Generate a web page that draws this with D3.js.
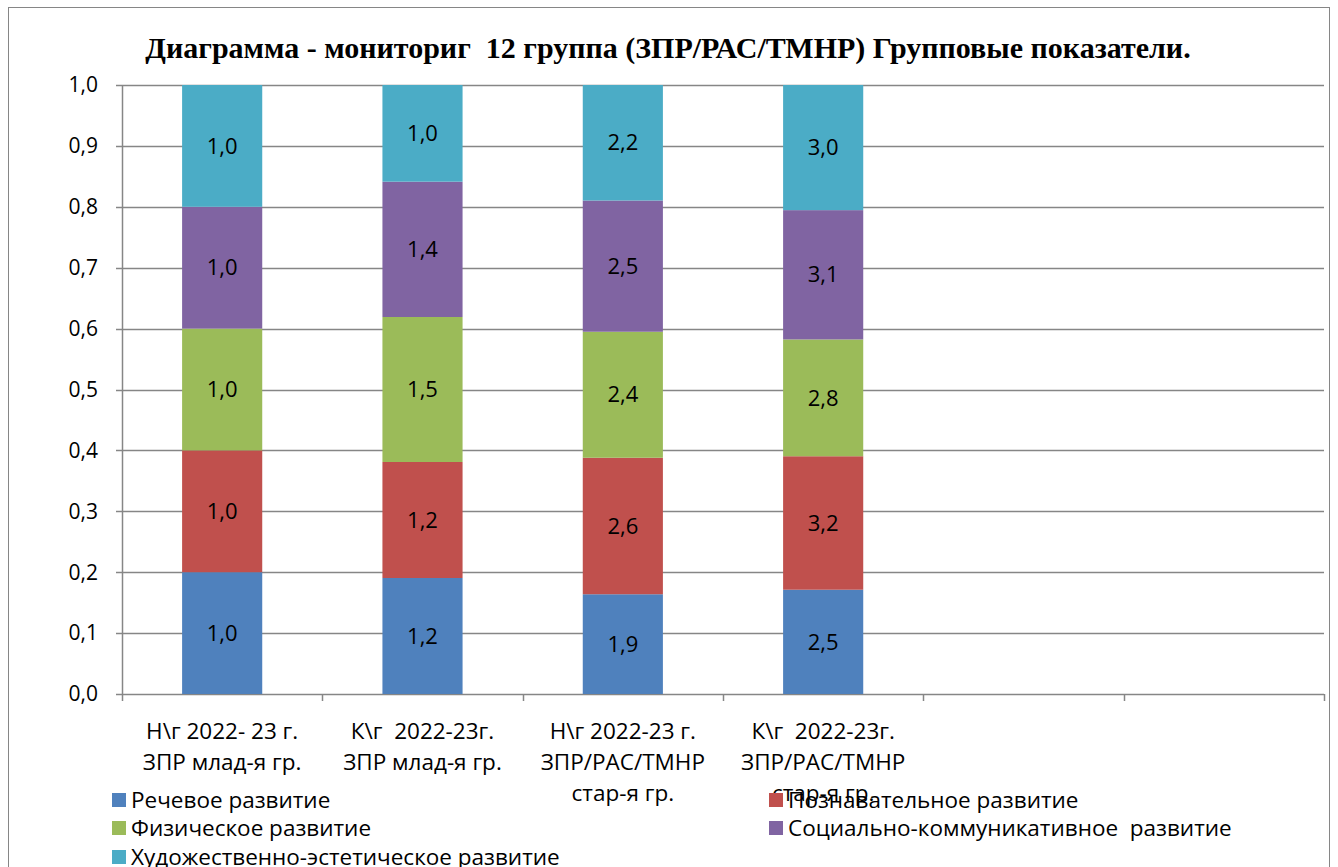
<!DOCTYPE html>
<html>
<head>
<meta charset="utf-8">
<script src="https://cdn.jsdelivr.net/npm/d3@7"></script>
<style>
  body { margin: 0; background: #fff; }
  text { font-family: "Open Sans", "Noto Sans", sans-serif; white-space: pre; }
</style>
</head>
<body>
<div id="chart"></div>
<script>
var categories = [
  ["Н\\г 2022- 23 г.", "ЗПР млад-я гр."],
  ["К\\г  2022-23г.", "ЗПР млад-я гр."],
  ["Н\\г 2022-23 г.", "ЗПР/РАС/ТМНР", "стар-я гр."],
  ["К\\г  2022-23г.", "ЗПР/РАС/ТМНР", "стар-я гр."],
  [""],
  [""]
];
var seriesNames = ["Речевое развитие", "Познавательное развитие", "Физическое развитие",
  "Социально-коммуникативное  развитие", "Художественно-эстетическое развитие"];
var speech   = [1.0, 1.2, 1.9, 2.5, null, null];
var cognit   = [1.0, 1.2, 2.6, 3.2, null, null];
var physical = [1.0, 1.5, 2.4, 2.8, null, null];
var social   = [1.0, 1.4, 2.5, 3.1, null, null];
var artistic = [1.0, 1.0, 2.2, 3.0, null, null];
var yTicks = [0, 0.1, 0.2, 0.3, 0.4, 0.5, 0.6, 0.7, 0.8, 0.9, 1.0];
var colors = ["#4F81BD", "#C0504D", "#9BBB59", "#8064A2", "#4BACC6"];
var titleText = "Диаграмма - мониториг  12 группа (ЗПР/РАС/ТМНР) Групповые показатели.";

var width = 1338, height = 867;
var margin = {top: 85, right: 14, bottom: 173, left: 122};
var plotW = width - margin.left - margin.right,
    plotH = height - margin.top - margin.bottom;

var svg = d3.select("#chart").append("svg")
  .attr("width", width)
  .attr("height", height);

// outer frame
svg.append("rect")
  .attr("x", 8.5).attr("y", 7.5)
  .attr("width", 1321).attr("height", 880)
  .attr("fill", "none")
  .attr("stroke", "#868686")
  .attr("stroke-width", 1);

svg.append("text")
  .attr("x", 668).attr("y", 58)
  .attr("text-anchor", "middle")
  .style("font-family", "'Liberation Serif', serif")
  .style("font-weight", "bold")
  .style("font-size", "30px")
  .text(titleText);

var g = svg.append("g")
  .attr("transform", "translate(" + margin.left + "," + margin.top + ")");

var x = d3.scaleBand()
  .domain(d3.range(categories.length))
  .range([0, plotW])
  .paddingInner(0.6)
  .paddingOuter(0.3);

var y = d3.scaleLinear().domain([0, 1]).range([plotH, 0]);

// gridlines
g.selectAll(".grid")
  .data(yTicks)
  .enter().append("line")
  .attr("x1", -6).attr("x2", plotW)
  .attr("y1", function(d) { return Math.round(y(d)) + 0.5; })
  .attr("y2", function(d) { return Math.round(y(d)) + 0.5; })
  .attr("stroke", "#868686")
  .attr("stroke-width", 1.5);

// y axis labels
g.selectAll(".ylab")
  .data(yTicks)
  .enter().append("text")
  .attr("x", -24)
  .attr("y", function(d) { return y(d); })
  .attr("dy", "0.35em")
  .attr("text-anchor", "end")
  .style("font-size", "21px")
  .text(function(d) { return d3.format(".1f")(d).replace(".", ","); });

// stacked data (percent)
var rows = categories.map(function(c, i) {
  return {i: i, s0: speech[i], s1: cognit[i], s2: physical[i], s3: social[i], s4: artistic[i]};
});
var keys = ["s0", "s1", "s2", "s3", "s4"];
var stack = d3.stack().keys(keys)
  .value(function(d, k) { return d[k] || 0; })
  .offset(d3.stackOffsetExpand);
var layers = stack(rows);

var layer = g.selectAll(".layer")
  .data(layers)
  .enter().append("g")
  .attr("fill", function(d, i) { return colors[i]; });

layer.selectAll("rect")
  .data(function(d) { return d.filter(function(p) { return p.data[d.key] != null; }); })
  .enter().append("rect")
  .attr("x", function(d) { return x(d.data.i); })
  .attr("width", x.bandwidth())
  .attr("y", function(d) { return y(d[1]); })
  .attr("height", function(d) { return y(d[0]) - y(d[1]); });

layers.forEach(function(l) {
  g.selectAll(null)
    .data(l.filter(function(p) { return p.data[l.key] != null; }))
    .enter().append("text")
    .attr("x", function(d) { return x(d.data.i) + x.bandwidth() / 2; })
    .attr("y", function(d) { return y((d[0] + d[1]) / 2); })
    .attr("dy", "0.35em")
    .attr("text-anchor", "middle")
    .style("font-size", "22px")
    .text(function(d) { return d3.format(".1f")(d.data[l.key]).replace(".", ","); });
});

// axes lines
g.append("line")
  .attr("x1", 0.5).attr("x2", 0.5)
  .attr("y1", 0).attr("y2", plotH)
  .attr("stroke", "#868686").attr("stroke-width", 1.5);

var step = plotW / categories.length;
g.selectAll(".xtick")
  .data(d3.range(categories.length + 1))
  .enter().append("line")
  .attr("x1", function(d) { return Math.round(d * step) + 0.5; })
  .attr("x2", function(d) { return Math.round(d * step) + 0.5; })
  .attr("y1", plotH).attr("y2", plotH + 7)
  .attr("stroke", "#868686").attr("stroke-width", 1.5);

// category labels
g.selectAll(".xlab")
  .data(categories)
  .enter().append("text")
  .attr("text-anchor", "middle")
  .style("font-size", "22.5px")
  .each(function(lines, i) {
    d3.select(this).selectAll("tspan")
      .data(lines)
      .enter().append("tspan")
      .attr("x", x(i) + x.bandwidth() / 2)
      .attr("y", function(d, j) { return plotH + 45 + j * 31; })
      .text(function(d) { return d; });
  });

// legend
var legendPos = [
  {x: 112, y: 800}, {x: 769, y: 800},
  {x: 112, y: 828}, {x: 769, y: 828},
  {x: 112, y: 857}
];
var legend = svg.selectAll(".legend")
  .data(seriesNames)
  .enter().append("g")
  .attr("transform", function(d, i) { return "translate(" + legendPos[i].x + "," + legendPos[i].y + ")"; });

legend.append("rect")
  .attr("x", 0).attr("y", -7)
  .attr("width", 14).attr("height", 14)
  .attr("fill", function(d, i) { return colors[i]; });

legend.append("text")
  .attr("x", 19).attr("y", 0)
  .attr("dy", "0.35em")
  .style("font-size", "22.5px")
  .text(function(d) { return d; });
</script>
</body>
</html>
